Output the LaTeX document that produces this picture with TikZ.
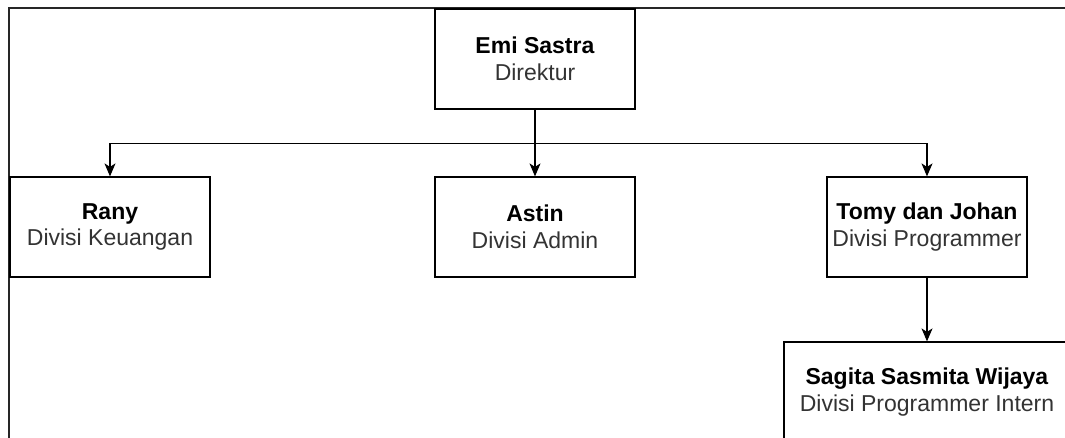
\documentclass[tikz,border=0pt]{standalone}
\usepackage{fontspec}
\setmainfont{Liberation Sans}
\usetikzlibrary{arrows.meta}
\definecolor{roletext}{HTML}{333333}
\tikzset{
  person/.style={draw=black, line width=1.2pt, fill=white, minimum width=200pt,
    minimum height=100pt, inner sep=0pt, align=center,
    font=\fontsize{23}{26.5}\selectfont},
  link/.style={draw=black, line width=1.2pt, -{Stealth[length=13pt,width=11pt,inset=3.5pt]}},
}
\newcommand{\who}[2]{\raisebox{-2pt}{\textbf{#1}}\\\raisebox{-2pt}{\textcolor{roletext}{#2}}}
\begin{document}
\begin{tikzpicture}[x=1pt, y=-1pt]
  \clip (0,0) rectangle (1065,438);
  \fill[white] (0,0) rectangle (1065,438);
  % outer container edge
  \draw[line width=2pt, black!85] (9,460) |- (1080,8);

  \node[person] (emi)    at (535,59)  {\who{Emi Sastra}{Direktur}};
  \node[person] (rany)   at (110,227) {\who{Rany}{Divisi Keuangan}};
  \node[person] (astin)  at (535,227) {\who{Astin}{Divisi Admin}};
  \node[person] (tomy)   at (927,227) {\who{Tomy dan Johan}{Divisi Programmer}};
  \node[person, minimum width=286pt] (sagita) at (927,392)
        {\who{Sagita Sasmita Wijaya}{Divisi Programmer Intern}};

  \draw[link] (emi.south) -- ++(0,34) -| (rany.north);
  \draw[link] (emi.south) -- (astin.north);
  \draw[link] (emi.south) -- ++(0,34) -| (tomy.north);
  \draw[link] (tomy.south) -- (sagita.north);
\end{tikzpicture}
\end{document}
